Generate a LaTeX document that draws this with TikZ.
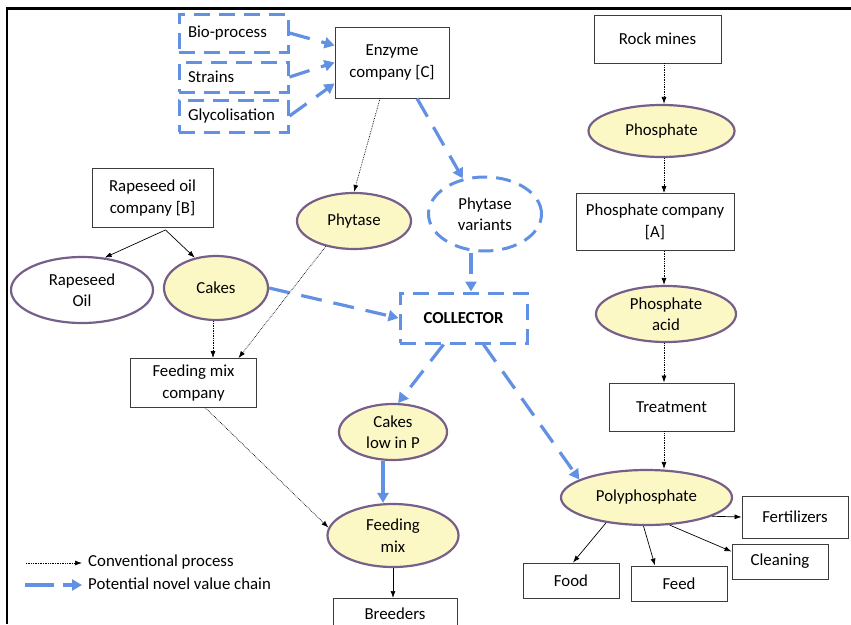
\documentclass[tikz,border=0pt]{standalone}
\usepackage{fontspec}
\setmainfont{Carlito}
\usetikzlibrary{shapes.geometric,arrows.meta,calc}
\definecolor{novel}{RGB}{98,145,228}
\definecolor{edgepurple}{RGB}{118,96,138}
\definecolor{cream}{RGB}{252,248,198}
\definecolor{boxline}{RGB}{60,60,60}

\begin{document}
\begin{tikzpicture}[x=1pt,y=-1pt,
  every node/.style={font=\fontsize{16.8}{21.5}\selectfont, align=center, inner sep=0pt},
  box/.style={draw=boxline, line width=0.9pt, rectangle, fill=white},
  prod/.style={draw=edgepurple, line width=2.2pt, ellipse, fill=cream},
  dbox/.style={draw=novel, line width=3pt, dash pattern=on 16pt off 9pt, rectangle},
  conv/.style={-{Latex[length=7pt,width=5pt]}, line width=0.7pt, densely dotted},
  plain/.style={-{Latex[length=7pt,width=5pt]}, line width=0.7pt},
  novelarrow/.style={-{Triangle[length=10pt,width=11pt]}, draw=novel, line width=3.2pt, dash pattern=on 21pt off 12pt}
]
\useasboundingbox (0,0) rectangle (851,624);
\fill[white] (0,0) rectangle (851,624);

% frame on the top and left
\draw[line width=2.7pt] (7,624) -- (7,8.5) -- (851,8.5);

% enzyme branch
\node[dbox, minimum width=109, minimum height=38, text width=91, align=left] (bio) at (233.5,33) {Bio-process};
\node[dbox, minimum width=109, minimum height=30, text width=91, align=left] (str) at (233.5,77) {Strains};
\node[dbox, minimum width=109, minimum height=32, text width=91, align=left] (gly) at (233.5,116) {Glycolisation};
\node[box, minimum width=114, minimum height=71] (enz) at (392,62.5) {Enzyme\\company [C]};
\node[prod, minimum width=114, minimum height=56] (phy) at (354,221) {Phytase};
\node[draw=novel, line width=3pt, dash pattern=on 15pt off 9pt, ellipse, minimum width=113, minimum height=74] (pv) at (485,214) {Phytase\\variants};
\node[dbox, minimum width=127, minimum height=50, font=\fontsize{16.8}{21.5}\selectfont\bfseries] (col) at (463.5,318) {COLLECTOR};

% rapeseed branch
\node[box, minimum width=121, minimum height=59] (rb) at (152.5,198) {Rapeseed oil\\company [B]};
\node[draw=edgepurple, line width=2.2pt, ellipse, fill=white, minimum width=142, minimum height=66] (ro) at (82,290) {Rapeseed\\Oil};
\node[prod, minimum width=104, minimum height=64] (ck) at (216,288) {Cakes};
\node[box, minimum width=126, minimum height=49] (fmc) at (193.5,383) {Feeding mix\\company};
\node[prod, minimum width=108, minimum height=56] (clp) at (393,432) {Cakes\\low in P};
\node[prod, minimum width=131, minimum height=63] (fmx) at (393,535.5) {Feeding\\mix};
\node[box, minimum width=124, minimum height=30, anchor=north] (brd) at (395,598) {Breeders};

% phosphate branch
\node[box, minimum width=127, minimum height=48] (rock) at (657.5,39) {Rock mines};
\node[prod, minimum width=146, minimum height=52] (pho) at (661.5,131) {Phosphate};
\node[box, minimum width=158, minimum height=57] (pco) at (655,222) {Phosphate company\\{[A]}};
\node[prod, minimum width=140, minimum height=56] (pac) at (666,314) {Phosphate\\acid};
\node[box, minimum width=125, minimum height=48] (trt) at (671.5,407) {Treatment};
\node[prod, minimum width=171, minimum height=55] (pp) at (646.5,497.5) {Polyphosphate};
\node[box, minimum width=106, minimum height=42] (fert) at (795,517) {Fertilizers};
\node[box, minimum width=96, minimum height=35] (cln) at (780,561.5) {Cleaning};
\node[box, minimum width=96, minimum height=35] (feed) at (679,583.5) {Feed};
\node[box, minimum width=96, minimum height=35] (food) at (571,580.5) {Food};

% novel value chain
\draw[novelarrow] (bio.east) -- ([yshift=17pt]enz.west);
\draw[novelarrow] (str.east) -- (enz.west);
\draw[novelarrow] (gly.east) -- ([yshift=-21pt]enz.west);
\draw[novelarrow] ([xshift=25pt]enz.south) -- (pv.122);
\draw[novelarrow] ([xshift=-14pt]pv.south) -- ([xshift=-14pt]pv.south |- col.north);
\draw[novelarrow] (ck.east) -- (col.west);
\draw[novelarrow] ([xshift=-20pt]col.south) -- (clp.80);
\draw[novelarrow] ([xshift=20pt]col.south) -- (pp.165);
\draw[draw=novel, line width=3.2pt, -{Triangle[length=10pt,width=11pt]}] ([xshift=-10pt]clp.south) -- ([xshift=-10pt]clp.south |- fmx.north);

% conventional process
\draw[conv] ([xshift=-12pt]enz.south) -- (phy.north);
\draw[plain] ([xshift=13pt,yshift=-2pt]rb.south) -- (ro.55);
\draw[plain] ([xshift=13pt,yshift=-2pt]rb.south) -- (ck.125);
\draw[conv] ([xshift=-3pt]ck.south) -- ([xshift=-3pt]ck.south |- fmc.north);
\draw[conv] (phy.222) -- ([xshift=45pt]fmc.north);
\draw[conv] ([xshift=12pt]fmc.south) -- (fmx.173);
\draw[plain] (fmx.south) -- (fmx.south |- brd.north);
\draw[conv] ([xshift=6.5pt]rock.south) -- ([xshift=6.5pt]rock.south |- pho.north);
\draw[conv] ([xshift=9pt]pco.north |- pho.south) -- ([xshift=9pt]pco.north);
\draw[conv] ([xshift=9pt]pco.south) -- ([xshift=9pt]pco.south |- pac.north);
\draw[conv] ([xshift=-7.5pt]trt.north |- pac.south) -- ([xshift=-7.5pt]trt.north);
\draw[conv] ([xshift=-7.5pt]trt.south) -- ([xshift=-7.5pt]trt.south |- pp.north);
\draw[plain] (pp.-16) -- (fert.west);
\draw[plain] (pp.-50) -- ([yshift=10pt]cln.west);
\draw[plain] ([xshift=-3pt]pp.south) -- ([xshift=-24pt]feed.north);
\draw[plain] (pp.-148) -- ([xshift=2pt]food.north);

% legend
\node[anchor=west] (lg1) at (88,562) {Conventional process};
\node[anchor=west] (lg2) at (88,584) {Potential novel value chain};
\coordinate (l1) at (26,563);
\coordinate (l2a) at (25,585);
\coordinate (l2b) at (54,585);
\coordinate (l2c) at (63,585);
\draw[conv] (l1) -- ([xshift=-6pt,yshift=-1pt]lg1.west);
\draw[draw=novel, line width=3.2pt] (l2a) -- (l2b);
\draw[draw=novel, line width=3.2pt, -{Triangle[length=10pt,width=11pt]}] (l2c) -- ([xshift=-6pt,yshift=-1pt]lg2.west);
\end{tikzpicture}
\end{document}
